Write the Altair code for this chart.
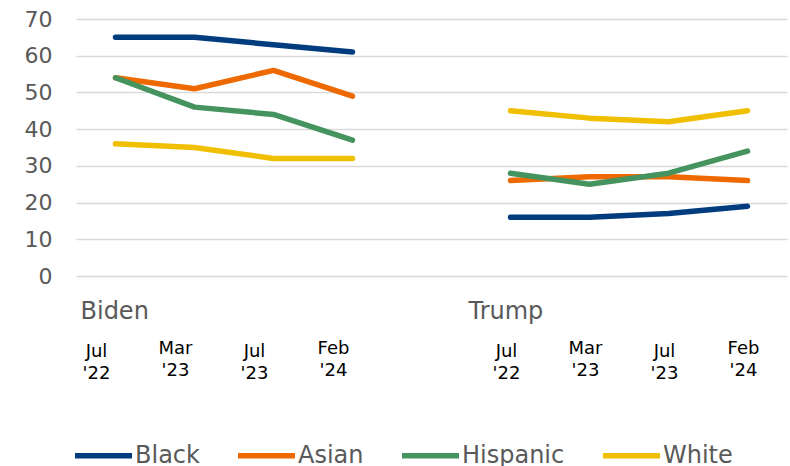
import altair as alt
import pandas as pd

groups = ["Biden", "Trump"]
months = ["Jul\n'22", "Mar\n'23", "Jul\n'23", "Feb\n'24"]
races = ["Black", "Asian", "Hispanic", "White"]
colors = ["#003C7E", "#EE6A00", "#45935E", "#F0BF00"]

biden = {
    "Black": [65, 65, 63, 61],
    "Asian": [54, 51, 56, 49],
    "Hispanic": [54, 46, 44, 37],
    "White": [36, 35, 32, 32],
}
trump = {
    "Black": [16, 16, 17, 19],
    "Asian": [26, 27, 27, 26],
    "Hispanic": [28, 25, 28, 34],
    "White": [45, 43, 42, 45],
}
y_ticks = [0, 10, 20, 30, 40, 50, 60, 70]

GAP = " "
slots = [f"Biden|{m}" for m in months] + [GAP] + [f"Trump|{m}" for m in months]

rows = []
for g, tbl in (("Biden", biden), ("Trump", trump)):
    for r in races:
        for m, v in zip(months, tbl[r]):
            rows.append({"group": g, "month": m, "slot": f"{g}|{m}", "race": r, "value": v})
df = pd.DataFrame(rows)

lab = pd.DataFrame([{"group": g, "month": m, "slot": f"{g}|{m}"} for g in groups for m in months])
grp = pd.DataFrame([{"group": g, "slot": f"{g}|{months[0]}"} for g in groups])

FONT = "DejaVu Sans"
xenc = alt.X("slot:N", sort=slots,
             scale=alt.Scale(type="point", padding=0.5, domain=slots), axis=None)

lines = alt.Chart(df).mark_line(strokeWidth=5.5, strokeCap="round", strokeJoin="round").encode(
    x=xenc,
    y=alt.Y("value:Q", scale=alt.Scale(domain=[0, 70], nice=False),
            axis=alt.Axis(values=y_ticks, title=None, domain=False, ticks=False,
                          labelFont=FONT, labelFontSize=22, labelColor="#595959",
                          labelPadding=24, gridColor="#D9D9D9", gridWidth=1.5)),
    color=alt.Color("race:N", sort=races,
                    scale=alt.Scale(domain=races, range=colors),
                    legend=alt.Legend(title=None, orient="none", direction="horizontal",
                                      legendX=-4, legendY=405,
                                      symbolType="stroke", symbolSize=3249,
                                      symbolStrokeWidth=5.5, labelFont=FONT,
                                      labelFontSize=24, labelColor="#595959",
                                      labelOffset=0, columnPadding=27)),
    detail="group:N",
)

month_text = alt.Chart(lab).mark_text(
    font=FONT, fontSize=18, color="#000000", align="center", baseline="alphabetic",
    lineBreak="\n", lineHeight=22,
    dx=alt.expr("datum.group === 'Biden' ? -19 : -4"),
    dy=alt.expr("indexof(datum.month, 'Jul') === 0 ? 3 : 0"),
).encode(x=xenc, y=alt.value(335), text="month:N")

group_text = alt.Chart(grp).mark_text(
    font=FONT, fontSize=24, color="#595959", align="left", baseline="alphabetic",
    dx=alt.expr("datum.group === 'Biden' ? -35 : -42"),
).encode(x=xenc, y=alt.value(300), text="group:N")

chart = alt.layer(lines, month_text, group_text).properties(
    width=711, height=257,
    autosize=alt.AutoSizeParams(type="none"),
    padding={"left": 76, "top": 19, "right": 3, "bottom": 190},
).configure_view(stroke=None)

chart.save("out.html", embed_options={"renderer": "svg", "actions": False})
